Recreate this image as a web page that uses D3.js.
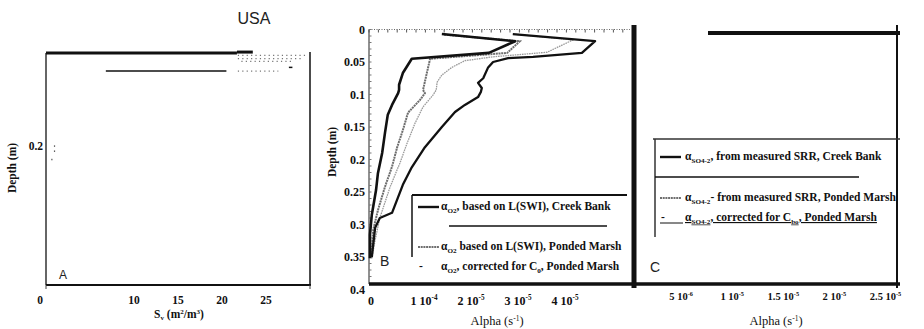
<!DOCTYPE html>
<html><head><meta charset="utf-8">
<script src="https://cdn.jsdelivr.net/npm/d3@7"></script>
<style>
html,body{margin:0;padding:0;background:#fff;}
svg{display:block;}
</style></head><body>
<svg id="chart" width="924" height="329"></svg>
<script>
// ---------- Panel A : specific surface area ----------
const svTicks = [0, 10, 15, 20, 25];
const depthTicksA = [0.2];
const svSurfaceLine = [[0, 0], [21.7, 0]];
const svShallowLine = [[6.8, 0.039], [20.5, 0.039]];
const svDottedRows = [[21.8, 29.5, 0.005], [21.8, 29.0, 0.012], [22.2, 28.2, 0.018], [21.8, 26.4, 0.039]];
const svNearAxis = [[0.9, 0.199], [0.9, 0.21], [0.6, 0.228]];

// ---------- Panel B : alpha O2 profiles ----------
const depthTicksB = [0, 0.05, 0.1, 0.15, 0.2, 0.25, 0.3, 0.35, 0.4];
const alphaTicksB = [0, 1e-5, 2e-5, 3e-5, 4e-5];
const alphaTickTextB = [["0", ""], ["1 10", "-4"], ["2 10", "-5"], ["3 10", "-5"], ["4 10", "-5"]];

const creekBankO2 = [
  [1.55e-5, 0.007], [3.11e-5, 0.018], [2.55e-5, 0.036], [0.91e-5, 0.045], [0.72e-5, 0.067],
  [0.64e-5, 0.085], [0.64e-5, 0.093], [0.62e-5, 0.098], [0.49e-5, 0.116], [0.40e-5, 0.131],
  [0.34e-5, 0.159], [0.28e-5, 0.190], [0.19e-5, 0.221], [0.15e-5, 0.247], [0.06e-5, 0.285],
  [0.02e-5, 0.316], [0.02e-5, 0.352]
];
const pondedMarshO2 = [
  [1.60e-5, 0.008], [3.21e-5, 0.018], [2.94e-5, 0.036], [1.30e-5, 0.045], [1.23e-5, 0.067],
  [1.15e-5, 0.093], [1.19e-5, 0.098], [1.09e-5, 0.108], [0.83e-5, 0.128], [0.72e-5, 0.155],
  [0.60e-5, 0.181], [0.49e-5, 0.211], [0.34e-5, 0.242], [0.19e-5, 0.278], [0.09e-5, 0.308],
  [0.04e-5, 0.352]
];
const pondedMarshO2Corrected = [
  [3.06e-5, 0.007], [4.34e-5, 0.016], [3.79e-5, 0.035], [2.64e-5, 0.042], [2.04e-5, 0.048],
  [1.77e-5, 0.058], [1.55e-5, 0.070], [1.45e-5, 0.081], [1.43e-5, 0.093], [1.36e-5, 0.101],
  [1.15e-5, 0.119], [0.98e-5, 0.144], [0.81e-5, 0.175], [0.66e-5, 0.205], [0.45e-5, 0.242],
  [0.23e-5, 0.290], [0.13e-5, 0.324], [0.06e-5, 0.352]
];
const creekBankO2Deep = [
  [3.06e-5, 0.007], [4.81e-5, 0.018], [4.53e-5, 0.036], [3.49e-5, 0.042], [2.96e-5, 0.044],
  [2.64e-5, 0.050], [2.53e-5, 0.059], [2.43e-5, 0.075], [2.32e-5, 0.082], [2.40e-5, 0.090],
  [2.38e-5, 0.096], [2.32e-5, 0.104], [2.04e-5, 0.116], [1.83e-5, 0.127], [1.55e-5, 0.150],
  [1.19e-5, 0.181], [0.91e-5, 0.212], [0.72e-5, 0.239], [0.49e-5, 0.282], [0.23e-5, 0.290],
  [0.13e-5, 0.305], [0.06e-5, 0.350]
];

// ---------- Panel C : alpha SO4 axis ----------
const alphaTicksC = [5e-6, 1e-5, 1.5e-5, 2e-5, 2.5e-5];
const alphaTickTextC = [["5 10", "-6"], ["1 10", "-5"], ["1.5 10", "-5"], ["2 10", "-5"], ["2.5 10", "-5"]];

// legend entries: text pieces, "sub" marks a subscript
const legendB = [
  { key: "solid", parts: [["α"], ["O2", "sub"], [", based on L(SWI), Creek Bank"]] },
  { key: "gray",  parts: [["α"], ["O2", "sub"], [" based on L(SWI), Ponded Marsh"]] },
  { key: "dash",  parts: [["α"], ["O2", "sub"], [", corrected for C"], ["0", "sub"], [", Ponded Marsh"]] }
];
const legendC = [
  { key: "solid", parts: [["α"], ["SO4-2", "sub"], [", from measured SRR, Creek Bank"]] },
  { key: "gray",  parts: [["α"], ["SO4-2", "sub"], ["- from measured SRR, Ponded Marsh"]] },
  { key: "dash",  parts: [["α"], ["SO4-2", "sub"], [", corrected for C"], ["bo", "sub"], [", Ponded Marsh"]] }
];

const SERIF = '"Liberation Serif","Times New Roman",serif';
const SANS = '"Liberation Sans",Arial,sans-serif';
const INK = "#111";

const svg = d3.select("#chart");

// writes a text line made of normal and subscript pieces
function richText(g, x, y, parts, size, underline) {
  const t = g.append("text").attr("x", x).attr("y", y)
    .attr("font-family", SERIF).attr("font-weight", "bold")
    .attr("font-size", size).attr("fill", INK);
  let shifted = 0;
  parts.forEach(([s, kind]) => {
    const sp = t.append("tspan").text(s);
    if (kind === "sub") { sp.attr("font-size", size * 0.62).attr("dy", 2.5 - shifted); shifted = 2.5; }
    else { sp.attr("dy", -shifted); shifted = 0; }
    if (underline) sp.attr("text-decoration", "underline");
  });
  return t;
}
// tick label with a superscript exponent
function powerLabel(g, x, y, base, exp, size) {
  const t = g.append("text").attr("x", x).attr("y", y).attr("text-anchor", "middle")
    .attr("font-family", SERIF).attr("font-weight", "bold").attr("font-size", size).attr("fill", INK);
  t.append("tspan").text(base);
  if (exp) t.append("tspan").attr("font-size", size * 0.6).attr("dy", -size * 0.4).text(exp);
}

// ================= Panel A =================
const xA = d3.scaleLinear().domain([0, 30]).range([46, 310]);
const yA = d3.scaleLinear().domain([0, 0.5]).range([53, 285]);
const gA = svg.append("g");
const lineA = d3.line().x(d => xA(d[0])).y(d => yA(d[1]));

// frame
gA.append("line").attr("x1", xA(0)).attr("x2", xA(0)).attr("y1", yA(0)).attr("y2", yA(0.5))
  .attr("stroke", "#666").attr("stroke-width", 2);
gA.append("line").attr("x1", xA(0)).attr("x2", xA(30) + 1).attr("y1", yA(0.5)).attr("y2", yA(0.5))
  .attr("stroke", INK).attr("stroke-width", 2);
gA.append("line").attr("x1", xA(30)).attr("x2", xA(30)).attr("y1", yA(0) - 1).attr("y2", yA(0.5))
  .attr("stroke", INK).attr("stroke-width", 1.5);
gA.selectAll(".endtick").data([0, 30]).join("line")
  .attr("x1", d => xA(d)).attr("x2", d => xA(d)).attr("y1", yA(0.5)).attr("y2", yA(0.5) + 4)
  .attr("stroke", "#444").attr("stroke-width", 1);

gA.append("path").attr("d", lineA(svSurfaceLine)).attr("stroke", INK).attr("stroke-width", 3).attr("fill", "none");
gA.append("path").attr("d", lineA([[21.7, -0.002], [23.5, -0.002]])).attr("stroke", INK).attr("stroke-width", 3).attr("fill", "none");
gA.append("path").attr("d", lineA(svShallowLine)).attr("stroke", INK).attr("stroke-width", 1.5).attr("fill", "none");
gA.selectAll(".dotrow").data(svDottedRows).join("line")
  .attr("x1", d => xA(d[0])).attr("x2", d => xA(d[1])).attr("y1", d => yA(d[2])).attr("y2", d => yA(d[2]))
  .attr("stroke", "#777").attr("stroke-width", 1.2).attr("stroke-dasharray", "1.2,3.2");
gA.append("path").attr("d", lineA([[27.6, 0.031], [28.0, 0.031]])).attr("stroke", INK).attr("stroke-width", 1.5);
gA.selectAll(".nearaxis").data(svNearAxis).join("rect")
  .attr("x", d => xA(d[0])).attr("y", d => yA(d[1])).attr("width", 1.2).attr("height", 1.5).attr("fill", "#555");

// tick labels
gA.selectAll(".xtl").data(svTicks).join("text")
  .attr("x", d => xA(d) - (d === 0 ? 6 : 0)).attr("y", 304).attr("text-anchor", "middle")
  .attr("font-family", SERIF).attr("font-weight", "bold").attr("font-size", 11.5).attr("fill", INK)
  .text(d => d);
gA.selectAll(".ytl").data(depthTicksA).join("text")
  .attr("x", xA(0) - 3).attr("y", d => yA(d) + 4).attr("text-anchor", "end")
  .attr("font-family", SERIF).attr("font-weight", "bold").attr("font-size", 11.5).attr("fill", INK)
  .text(d => d);

// titles
gA.append("text").attr("transform", "translate(16,168) rotate(-90)").attr("text-anchor", "middle")
  .attr("font-family", SERIF).attr("font-weight", "bold").attr("font-size", 11.5).attr("fill", INK).text("Depth (m)");
const svTitle = gA.append("text").attr("x", 179).attr("y", 318).attr("text-anchor", "middle")
  .attr("font-family", SERIF).attr("font-weight", "bold").attr("font-size", 11.5).attr("fill", INK);
svTitle.append("tspan").text("S");
svTitle.append("tspan").attr("font-size", 7).attr("dy", 2).text("v");
svTitle.append("tspan").attr("dy", -2).text(" (m");
svTitle.append("tspan").attr("font-size", 7).attr("dy", -4).text("2");
svTitle.append("tspan").attr("dy", 4).text("/m");
svTitle.append("tspan").attr("font-size", 7).attr("dy", -4).text("3");
svTitle.append("tspan").attr("dy", 4).text(")");

gA.append("text").attr("x", 254).attr("y", 24).attr("text-anchor", "middle")
  .attr("font-family", SANS).attr("font-size", 16).attr("fill", "#222").text("USA");
gA.append("text").attr("x", 59).attr("y", 279)
  .attr("font-family", SANS).attr("font-size", 12).attr("fill", "#222").text("A");

// ================= Panel B =================
const xB = d3.scaleLinear().domain([0, 5.6e-5]).range([369, 632.2]);
const yB = d3.scaleLinear().domain([0, 0.4]).range([29.5, 289.5]);
const FRAME_BOTTOM = 284;
const gB = svg.append("g");

// top dotted axis with ticks
gB.append("line").attr("x1", xB(0)).attr("x2", xB(5.55e-5)).attr("y1", yB(0)).attr("y2", yB(0))
  .attr("stroke", "#666").attr("stroke-width", 1.2).attr("stroke-dasharray", "1,1.5");
gB.selectAll(".ttick").data(d3.range(0, 5.6e-5, 0.2e-5)).join("line")
  .attr("x1", d => xB(d)).attr("x2", d => xB(d)).attr("y1", yB(0)).attr("y2", yB(0) + 3)
  .attr("stroke", "#555").attr("stroke-width", 1);
// left axis with minor ticks
gB.append("line").attr("x1", xB(0)).attr("x2", xB(0)).attr("y1", yB(0)).attr("y2", FRAME_BOTTOM)
  .attr("stroke", "#555").attr("stroke-width", 1.3);
gB.selectAll(".ltick").data(d3.range(0, 0.39, 0.01)).join("line")
  .attr("x1", xB(0)).attr("x2", xB(0) + 2.5).attr("y1", d => yB(d)).attr("y2", d => yB(d))
  .attr("stroke", "#777").attr("stroke-width", 1);

// curves
const lineB = d3.line().x(d => xB(d[0])).y(d => yB(d[1]));
gB.append("path").attr("d", lineB(pondedMarshO2Corrected)).attr("fill", "none")
  .attr("stroke", "#9a9a9a").attr("stroke-width", 1.3).attr("stroke-dasharray", "1.6,0.8");
gB.append("path").attr("d", lineB(pondedMarshO2)).attr("fill", "none")
  .attr("stroke", "#6e6e6e").attr("stroke-width", 2).attr("stroke-dasharray", "2,0.7");
gB.append("path").attr("d", lineB(creekBankO2Deep)).attr("fill", "none")
  .attr("stroke", INK).attr("stroke-width", 2.3).attr("stroke-linejoin", "round");
gB.append("path").attr("d", lineB(creekBankO2)).attr("fill", "none")
  .attr("stroke", INK).attr("stroke-width", 2.6).attr("stroke-linejoin", "round");

// tick labels
gB.selectAll(".ytl").data(depthTicksB).join("text")
  .attr("x", xB(0) - 4).attr("y", d => yB(d) + 4).attr("text-anchor", "end")
  .attr("font-family", SERIF).attr("font-weight", "bold").attr("font-size", 12).attr("fill", INK)
  .text(d => String(+d.toFixed(2)));
alphaTicksB.forEach((v, i) => powerLabel(gB, xB(v) + (i === 0 ? 2 : 8), 305, alphaTickTextB[i][0], alphaTickTextB[i][1], 12));

// titles
gB.append("text").attr("transform", "translate(336,152) rotate(-90)").attr("text-anchor", "middle")
  .attr("font-family", SERIF).attr("font-weight", "bold").attr("font-size", 11.5).attr("fill", INK).text("Depth (m)");
const aB = gB.append("text").attr("x", 497).attr("y", 325).attr("text-anchor", "middle")
  .attr("font-family", SERIF).attr("font-size", 12.5).attr("fill", INK);
aB.append("tspan").text("Alpha (s");
aB.append("tspan").attr("font-size", 7.5).attr("dy", -4).text("-1");
aB.append("tspan").attr("dy", 4).text(")");
gB.append("text").attr("x", 380).attr("y", 266)
  .attr("font-family", SANS).attr("font-size", 14).attr("fill", "#222").text("B");

// legend frame
gB.append("line").attr("x1", 412).attr("x2", 627).attr("y1", 195).attr("y2", 195).attr("stroke", INK).attr("stroke-width", 2);
gB.append("line").attr("x1", 412).attr("x2", 412).attr("y1", 195).attr("y2", 257).attr("stroke", INK).attr("stroke-width", 1.5);
gB.append("line").attr("x1", 449).attr("x2", 607).attr("y1", 226).attr("y2", 226).attr("stroke", INK).attr("stroke-width", 1.3);

// ================= Panel C =================
const xC = d3.scaleLinear().domain([0, 2.5e-5]).range([630, 885.5]);
const gC = svg.append("g");
// shared bottom frame and dividers
svg.append("line").attr("x1", xB(0)).attr("x2", 900).attr("y1", FRAME_BOTTOM).attr("y2", FRAME_BOTTOM)
  .attr("stroke", INK).attr("stroke-width", 3.5);
gC.append("line").attr("x1", 634).attr("x2", 634).attr("y1", 25).attr("y2", 288).attr("stroke", INK).attr("stroke-width", 5);
gC.append("line").attr("x1", 897).attr("x2", 897).attr("y1", 25).attr("y2", 288).attr("stroke", INK).attr("stroke-width", 2);
gC.append("line").attr("x1", 708).attr("x2", 900).attr("y1", 33).attr("y2", 33).attr("stroke", INK).attr("stroke-width", 4);

alphaTicksC.forEach((v, i) => powerLabel(gC, xC(v), 300, alphaTickTextC[i][0], alphaTickTextC[i][1], 10.5));
const aC = gC.append("text").attr("x", 776).attr("y", 325).attr("text-anchor", "middle")
  .attr("font-family", SERIF).attr("font-size", 12.5).attr("fill", INK);
aC.append("tspan").text("Alpha (s");
aC.append("tspan").attr("font-size", 7.5).attr("dy", -4).text("-1");
aC.append("tspan").attr("dy", 4).text(")");
gC.append("text").attr("x", 650).attr("y", 272)
  .attr("font-family", SANS).attr("font-size", 14).attr("fill", "#222").text("C");

gC.append("line").attr("x1", 653).attr("x2", 900).attr("y1", 139).attr("y2", 139).attr("stroke", "#333").attr("stroke-width", 1.5);
gC.append("line").attr("x1", 655).attr("x2", 655).attr("y1", 139).attr("y2", 237).attr("stroke", "#333").attr("stroke-width", 1.5);
gC.append("line").attr("x1", 655).attr("x2", 859).attr("y1", 177).attr("y2", 177).attr("stroke", INK).attr("stroke-width", 1.3);

// legend entries (B and C)
function drawLegend(g, entries, sx, tx, ys, size, underlineLast) {
  entries.forEach((e, i) => {
    const y = ys[i];
    if (e.key === "solid") {
      g.append("line").attr("x1", sx).attr("x2", sx + 21).attr("y1", y - 3).attr("y2", y - 3).attr("stroke", INK).attr("stroke-width", 2.4);
    } else if (e.key === "gray") {
      g.append("line").attr("x1", sx).attr("x2", sx + 21).attr("y1", y - 3).attr("y2", y - 3)
        .attr("stroke", "#6e6e6e").attr("stroke-width", 2).attr("stroke-dasharray", "2,0.7");
    } else {
      g.append("text").attr("x", sx + 1).attr("y", y).attr("font-family", SERIF).attr("font-weight", "bold")
        .attr("font-size", size).attr("fill", INK).text("-");
      if (underlineLast) {
        g.append("line").attr("x1", sx).attr("x2", sx + 23).attr("y1", y + 2).attr("y2", y + 2).attr("stroke", INK).attr("stroke-width", 1);
      }
    }
    richText(g, tx, y, e.parts, size, underlineLast && i === entries.length - 1);
  });
}
drawLegend(gB, legendB, 418, 441, [210, 250, 270], 11.5, false);
drawLegend(gC, legendC, 660, 685, [160, 201, 221], 11.5, true);
</script>
</body></html>
